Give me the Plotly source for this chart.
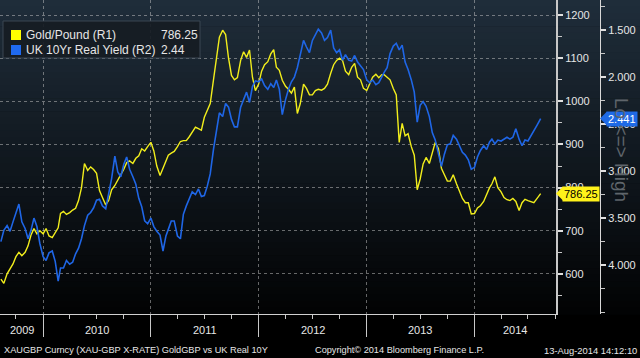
import plotly.graph_objects as go

# ---------------- data ----------------
dates = [
    "2009-08-11", "2009-08-21",
    "2009-09-01", "2009-09-11", "2009-09-21", "2009-10-01", "2009-10-11", "2009-10-21",
    "2009-11-01", "2009-11-11", "2009-11-21", "2009-12-01", "2009-12-11", "2009-12-21",
    "2010-01-01", "2010-01-11", "2010-01-21", "2010-02-01", "2010-02-11", "2010-02-21",
    "2010-03-01", "2010-03-11", "2010-03-21", "2010-04-01", "2010-04-11", "2010-04-21",
    "2010-05-01", "2010-05-11", "2010-05-21", "2010-06-01", "2010-06-11", "2010-06-21",
    "2010-07-01", "2010-07-11", "2010-07-21", "2010-08-01", "2010-08-11", "2010-08-21",
    "2010-09-01", "2010-09-11", "2010-09-21", "2010-10-01", "2010-10-11", "2010-10-21",
    "2010-11-01", "2010-11-11", "2010-11-21", "2010-12-01", "2010-12-11", "2010-12-21",
    "2011-01-01", "2011-01-11", "2011-01-21", "2011-02-01", "2011-02-11", "2011-02-21",
    "2011-03-01", "2011-03-11", "2011-03-21", "2011-04-01", "2011-04-11", "2011-04-21",
    "2011-05-01", "2011-05-11", "2011-05-21", "2011-06-01", "2011-06-11", "2011-06-21",
    "2011-07-01", "2011-07-11", "2011-07-21", "2011-08-01", "2011-08-11", "2011-08-21",
    "2011-09-01", "2011-09-11", "2011-09-21", "2011-10-01", "2011-10-11", "2011-10-21",
    "2011-11-01", "2011-11-11", "2011-11-21", "2011-12-01", "2011-12-11", "2011-12-21",
    "2012-01-01", "2012-01-11", "2012-01-21", "2012-02-01", "2012-02-11", "2012-02-21",
    "2012-03-01", "2012-03-11", "2012-03-21", "2012-04-01", "2012-04-11", "2012-04-21",
    "2012-05-01", "2012-05-11", "2012-05-21", "2012-06-01", "2012-06-11", "2012-06-21",
    "2012-07-01", "2012-07-11", "2012-07-21", "2012-08-01", "2012-08-11", "2012-08-21",
    "2012-09-01", "2012-09-11", "2012-09-21", "2012-10-01", "2012-10-11", "2012-10-21",
    "2012-11-01", "2012-11-11", "2012-11-21", "2012-12-01", "2012-12-11", "2012-12-21",
    "2013-01-01", "2013-01-11", "2013-01-21", "2013-02-01", "2013-02-11", "2013-02-21",
    "2013-03-01", "2013-03-11", "2013-03-21", "2013-04-01", "2013-04-11", "2013-04-21",
    "2013-05-01", "2013-05-11", "2013-05-21", "2013-06-01", "2013-06-11", "2013-06-21",
    "2013-07-01", "2013-07-11", "2013-07-21", "2013-08-01", "2013-08-11", "2013-08-21",
    "2013-09-01", "2013-09-11", "2013-09-21", "2013-10-01", "2013-10-11", "2013-10-21",
    "2013-11-01", "2013-11-11", "2013-11-21", "2013-12-01", "2013-12-11", "2013-12-21",
    "2014-01-01", "2014-01-11", "2014-01-21", "2014-02-01", "2014-02-11", "2014-02-21",
    "2014-03-01", "2014-03-11", "2014-03-21", "2014-04-01", "2014-04-11", "2014-04-21",
    "2014-05-01", "2014-05-11", "2014-05-21", "2014-06-01", "2014-06-11", "2014-06-21",
    "2014-07-01", "2014-07-11", "2014-07-21", "2014-08-01", "2014-08-13",
]

gold_gbp = [
    588, 578, 600, 612, 623, 640, 650, 642, 650, 665, 690, 705, 693, 700,
    693, 705, 688, 684, 695, 707, 740, 745, 738, 742, 748, 752, 770, 800, 856, 840, 848, 842,
    833, 793, 777, 760, 770, 795, 805, 816, 830, 842, 858, 862, 856, 868, 874, 890, 885, 895,
    905, 885, 850, 828, 845, 860, 875, 880, 884, 895, 907, 909, 909, 918, 930, 940, 937, 933,
    963, 979, 995, 1050, 1095, 1149, 1165, 1155, 1100, 1060, 1050, 1055, 1095, 1115, 1102, 1119, 1056, 1025,
    1040, 1070, 1085, 1092, 1110, 1120, 1079, 1072, 1049, 1035, 1028, 1019, 1033, 972, 995, 1040, 1030, 1015,
    1015, 1025, 1028, 1026, 1030, 1040, 1065, 1085, 1095, 1100, 1095, 1070, 1062, 1079, 1088, 1056, 1050, 1030,
    1025, 1040, 1056, 1063, 1055, 1062, 1062, 1056, 1050, 1030, 1015, 905, 949, 920, 925, 895, 875, 795,
    820, 855, 870, 856, 879, 905, 890, 845, 830, 815, 815, 830, 809, 793, 775, 765, 765, 739,
    740, 753, 758, 768, 785, 800, 809, 825, 800, 790, 777, 772, 770, 775, 768, 747, 765, 773,
    770, 768, 765, 775, 786.25,
]

uk_real_yield = [
    3.75, 3.63, 3.58, 3.64, 3.54, 3.45, 3.35, 3.54, 3.61, 3.72, 3.63, 3.50, 3.59, 3.77,
    3.91, 3.95, 3.87, 3.85, 3.96, 4.17, 4.03, 4.03, 3.95, 3.99, 3.97, 3.88, 3.82, 3.72, 3.58, 3.47, 3.44, 3.39,
    3.31, 3.30, 3.37, 3.40, 3.24, 3.08, 2.84, 3.01, 3.06, 2.93, 2.85, 2.98, 3.06, 3.14, 3.29, 3.38, 3.53, 3.56,
    3.50, 3.59, 3.64, 3.68, 3.85, 3.69, 3.62, 3.53, 3.53, 3.69, 3.72, 3.46, 3.37, 3.29, 3.22, 3.25, 3.19, 3.27,
    3.26, 3.16, 3.03, 2.77, 2.59, 2.38, 2.42, 2.28, 2.32, 2.45, 2.53, 2.53, 2.32, 2.23, 2.16, 2.27, 2.10, 2.04,
    2.05, 2.02, 2.09, 2.13, 2.07, 2.11, 2.03, 2.13, 2.40, 2.24, 2.13, 2.05, 2.00, 1.90, 1.76, 1.61, 1.68, 1.74,
    1.61, 1.55, 1.49, 1.53, 1.61, 1.58, 1.50, 1.69, 1.74, 1.71, 1.82, 1.76, 1.82, 1.83, 1.77, 1.84, 1.88, 1.92,
    2.03, 2.06, 2.03, 2.08, 2.06, 1.99, 1.95, 1.90, 1.75, 1.67, 1.64, 1.71, 1.66, 1.84, 1.92, 2.03, 2.16, 2.48,
    2.30, 2.26, 2.31, 2.42, 2.59, 2.67, 2.82, 2.95, 2.82, 2.72, 2.71, 2.62, 2.66, 2.73, 2.80, 2.83, 2.88, 2.98,
    2.96, 2.85, 2.78, 2.73, 2.77, 2.69, 2.66, 2.71, 2.67, 2.68, 2.66, 2.64, 2.66, 2.64, 2.55, 2.66, 2.73, 2.67,
    2.68, 2.62, 2.57, 2.51, 2.441,
]

r1_ticks = [600, 700, 800, 900, 1000, 1100, 1200]
r2_ticks = [1.5, 2.0, 2.5, 3.0, 3.5, 4.0]
r2_ticktext = ["1.500", "2.000", "2.500", "3.000", "3.500", "4.000"]
year_labels = ["2009", "2010", "2011", "2012", "2013", "2014"]
year_label_pos = ["2009-10-20", "2010-07-02", "2011-07-02", "2012-07-02", "2013-07-02", "2014-05-19"]

gold_last = 786.25
yield_last = 2.441
legend_gold_val = "786.25"
legend_yield_val = "2.44"

# ---------------- styling ----------------
W, H = 640, 358
PLOT_H = 314
YELLOW = "#f2ee1c"
BLUE = "#1f66e6"
TXT = "#e6e6e6"
FONT = "Liberation Sans, Arial, sans-serif"


def px(x):
    return x / W


def py(y):
    return 1 - y / PLOT_H


fig = go.Figure()
fig.add_trace(go.Scatter(x=dates, y=gold_gbp, mode="lines", name="Gold/Pound (R1)",
                         line=dict(color=YELLOW, width=1.4), yaxis="y"))
fig.add_trace(go.Scatter(x=dates, y=uk_real_yield, mode="lines", name="UK 10Yr Real Yield (R2)",
                         line=dict(color=BLUE, width=1.6), yaxis="y2"))

shapes = []
# background gradient (dark slate at top to black at bottom)
N = 48
top = (31, 45, 58)
bot = (2, 3, 4)
for i in range(N):
    t = i / (N - 1)
    c = tuple(round(top[k] + (bot[k] - top[k]) * t) for k in range(3))
    shapes.append(dict(type="rect", xref="paper", yref="paper", layer="below",
                       x0=0, x1=1, y0=1 - (i + 1) / N - 0.002, y1=1 - i / N,
                       fillcolor="rgb(%d,%d,%d)" % c, line=dict(width=0)))

# legend box
shapes.append(dict(type="rect", xref="paper", yref="paper", layer="above",
                   x0=px(3), x1=px(200), y0=py(58), y1=py(21),
                   fillcolor="rgba(22,28,35,0.92)", line=dict(color="#3b4652", width=1)))
shapes.append(dict(type="rect", xref="paper", yref="paper", layer="above",
                   x0=px(11), x1=px(21), y0=py(40), y1=py(30),
                   fillcolor="#ffff00", line=dict(width=0)))
shapes.append(dict(type="rect", xref="paper", yref="paper", layer="above",
                   x0=px(11), x1=px(21), y0=py(55), y1=py(45),
                   fillcolor="#1f6af0", line=dict(width=0)))

# tag pointers
r1_span = 1235 - 507
r2_span = 4.52 - 1.18
d1 = 7 * r1_span / PLOT_H
d2 = 7 * r2_span / PLOT_H
shapes.append(dict(type="path", xref="paper", yref="y", layer="above",
                   path="M %f,%f L %f,%f L %f,%f Z" % (px(556), gold_last, px(563), gold_last + d1,
                                                     px(563), gold_last - d1),
                   fillcolor="#fff21a", line=dict(width=0)))
shapes.append(dict(type="path", xref="paper", yref="y2", layer="above",
                   path="M %f,%f L %f,%f L %f,%f Z" % (px(600), yield_last, px(607), yield_last - d2,
                                                     px(607), yield_last + d2),
                   fillcolor="#1f6ae6", line=dict(width=0)))

annotations = []


def ann(text, x, y, xanchor="left", size=12, color=TXT, family=FONT, **kw):
    d = dict(text=text, x=x, y=y, xref=kw.pop("xref", "paper"), yref=kw.pop("yref", "paper"),
             xanchor=xanchor, yanchor=kw.pop("yanchor", "middle"), showarrow=False,
             font=dict(size=size, color=color, family=family))
    d.update(kw)
    annotations.append(d)


# legend text
ann("Gold/Pound (R1)", px(24), py(35))
ann(legend_gold_val, px(159), py(35))
ann("UK 10Yr Real Yield (R2)", px(24), py(50))
ann(legend_yield_val, px(159), py(50))

# value tags
ann("786.25", px(562), gold_last, yref="y", size=11, color="#000000",
    bgcolor="#fff21a", borderpad=1)
ann("2.441", px(606), yield_last, yref="y2", size=11, color="#ffffff",
    bgcolor="#1f6ae6", borderpad=1)

# Lo <=> High
ann("Lo <=> High", px(622), py(150), xanchor="center", size=19, color="#5f656b", textangle=90)

# year labels
for lab, pos in zip(year_labels, year_label_pos):
    ann(lab, pos, py(330), xref="x", xanchor="center", size=11)

# footer
ann("XAUGBP Curncy (XAU-GBP X-RATE) GoldGBP vs UK Real 10Y", px(2), py(350), size=9.2)
ann("Copyright\u00a9 2014 Bloomberg Finance L.P.", px(313), py(350), size=9.2)
ann("13-Aug-2014 14:12:10", px(639), py(350), xanchor="right", size=9.4)

GRID = "rgba(200,200,200,0.5)"

fig.update_layout(
    width=W, height=H,
    margin=dict(l=0, r=0, t=0, b=H - PLOT_H, pad=0),
    paper_bgcolor="#000000",
    plot_bgcolor="rgba(0,0,0,0)",
    showlegend=False,
    shapes=shapes,
    annotations=annotations,
    xaxis=dict(
        domain=[0, px(556)], type="date", range=["2009-08-08", "2014-10-04"],
        showgrid=True, gridcolor=GRID, griddash="dot", gridwidth=1,
        tick0="2010-01-01", dtick="M12",
        ticks="outside", ticklen=22, tickwidth=1, tickcolor="#c8c8c8",
        showticklabels=False, showline=True, linecolor="#d0d0d0", linewidth=1,
        zeroline=False, fixedrange=True,
        minor=dict(dtick="M3", tick0="2010-01-01", ticks="outside", ticklen=4,
                   tickcolor="#c8c8c8", tickwidth=1, showgrid=False),
    ),
    yaxis=dict(
        side="right", anchor="x", range=[507, 1235],
        tickvals=r1_ticks, ticks="outside", ticklen=5, tickwidth=2, tickcolor="#e0e0e0",
        tickfont=dict(size=11, color=TXT, family=FONT),
        showgrid=True, gridcolor=GRID, griddash="dot", gridwidth=1,
        showline=True, linecolor="#c8c8c8", linewidth=2, zeroline=False,
        automargin=False, fixedrange=True,
        minor=dict(dtick=50, tick0=0, ticks="outside", ticklen=4, tickcolor="#c8c8c8",
                   tickwidth=1, showgrid=False),
    ),
    yaxis2=dict(
        overlaying="y", side="right", anchor="free", position=px(600),
        range=[4.52, 1.18], tickvals=r2_ticks, ticktext=r2_ticktext,
        ticks="outside", ticklen=5, tickwidth=2, tickcolor="#e0e0e0",
        tickfont=dict(size=11, color=TXT, family=FONT),
        showgrid=False, showline=True, linecolor="#d8d8d8", linewidth=1, zeroline=False,
        automargin=False, fixedrange=True,
        minor=dict(dtick=0.25, tick0=0, ticks="outside", ticklen=4, tickcolor="#c8c8c8",
                   tickwidth=1, showgrid=False),
    ),
)

fig.write_html("out.html", config={"displayModeBar": False},
               post_script="document.body.style.margin='0px';document.body.style.overflow='hidden';")
